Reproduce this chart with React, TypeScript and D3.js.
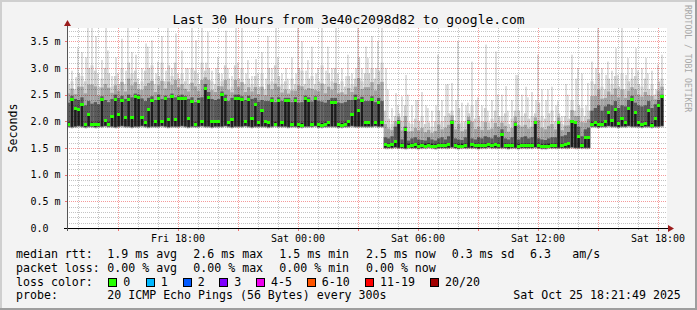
import React from 'react';
import * as d3 from 'd3';

// ---------- data (ms), one column per 10 minutes starting Fri 12:27 UTC ----------
const START = Date.UTC(2025, 9, 24, 12, 27);
const STEP_MIN = 10;

const MED = [
  1.94, 2.41, 2.25, 2.22, 2.31, 1.94, 2.12, 1.94, 1.94, 1.95,
  2.41, 2.02, 1.95, 2.10, 2.41, 2.12, 2.40, 2.08, 2.41, 2.07,
  2.46, 2.44, 2.08, 1.97, 2.22, 2.39, 1.99, 2.43, 2.00, 2.42,
  2.03, 2.46, 2.03, 2.42, 2.42, 2.42, 2.06, 2.38, 1.95, 2.38,
  2.00, 2.62, 2.45, 2.00, 1.99, 2.00, 2.51, 2.41, 1.97, 2.03,
  2.42, 2.43, 2.41, 2.00, 2.41, 2.06, 2.32, 1.97, 2.20, 2.00,
  1.97, 2.39, 1.95, 2.39, 1.98, 2.39, 2.39, 1.95, 2.39, 1.94,
  1.93, 2.42, 2.39, 1.94, 2.42, 1.94, 1.93, 1.95, 1.98, 2.36,
  2.36, 1.94, 1.93, 1.95, 2.00, 2.12, 2.42, 2.20, 2.39, 1.98,
  1.98, 2.41, 1.97, 2.36, 1.97, 1.56, 1.55, 1.56, 1.62, 1.98,
  1.55, 1.84, 1.53, 1.55, 1.56, 1.53, 1.54, 1.53, 1.55, 1.53,
  1.53, 1.55, 1.55, 1.54, 1.56, 1.97, 1.55, 1.53, 1.53, 1.55,
  1.98, 1.56, 1.54, 1.54, 1.55, 1.55, 1.56, 1.55, 1.56, 1.55,
  1.76, 1.55, 1.55, 1.55, 1.95, 1.53, 1.55, 1.55, 1.54, 1.55,
  1.97, 1.55, 1.53, 1.53, 1.53, 1.55, 1.55, 1.97, 1.55, 1.56,
  1.59, 1.99, 1.97, 1.72, 1.55, 1.70, 1.69, 1.95, 1.97, 1.95,
  1.94, 1.99, 2.16, 2.02, 2.22, 1.96, 2.06, 1.97, 2.25, 2.41,
  2.16, 1.98, 1.95, 1.96, 2.20, 1.93, 2.06, 2.30, 2.46,
];

const LO = [
  1.90, 1.89, 1.90, 1.91, 1.90, 1.89, 1.90, 1.90, 1.89, 1.90,
  1.90, 1.91, 1.90, 1.90, 1.89, 1.90, 1.91, 1.90, 1.90, 1.89,
  1.90, 1.90, 1.91, 1.90, 1.89, 1.90, 1.90, 1.90, 1.91, 1.90,
  1.89, 1.90, 1.90, 1.90, 1.91, 1.90, 1.89, 1.90, 1.90, 1.90,
  1.91, 1.90, 1.90, 1.89, 1.90, 1.90, 1.90, 1.91, 1.90, 1.89,
  1.90, 1.90, 1.90, 1.91, 1.90, 1.89, 1.90, 1.90, 1.90, 1.90,
  1.89, 1.90, 1.91, 1.90, 1.90, 1.90, 1.89, 1.90, 1.90, 1.89,
  1.89, 1.90, 1.90, 1.90, 1.91, 1.89, 1.89, 1.90, 1.90, 1.90,
  1.90, 1.89, 1.89, 1.90, 1.90, 1.91, 1.90, 1.90, 1.90, 1.90,
  1.90, 1.90, 1.91, 1.90, 1.90, 1.50, 1.50, 1.50, 1.51, 1.50,
  1.50, 1.49, 1.50, 1.50, 1.50, 1.49, 1.50, 1.50, 1.51, 1.50,
  1.49, 1.50, 1.50, 1.50, 1.50, 1.51, 1.50, 1.49, 1.50, 1.50,
  1.50, 1.50, 1.50, 1.49, 1.50, 1.50, 1.51, 1.50, 1.50, 1.50,
  1.50, 1.50, 1.49, 1.50, 1.50, 1.49, 1.50, 1.50, 1.50, 1.50,
  1.51, 1.50, 1.49, 1.49, 1.50, 1.50, 1.50, 1.50, 1.50, 1.50,
  1.50, 1.51, 1.50, 1.50, 1.50, 1.50, 1.50, 1.90, 1.90, 1.89,
  1.90, 1.90, 1.91, 1.90, 1.90, 1.89, 1.90, 1.90, 1.91, 1.90,
  1.90, 1.90, 1.89, 1.90, 1.90, 1.89, 1.90, 1.90, 1.91,
];

const HI = [
  2.35, 2.48, 2.42, 2.40, 2.45, 2.30, 2.38, 2.33, 2.36, 2.32,
  2.47, 2.40, 2.36, 2.42, 2.50, 2.44, 2.48, 2.42, 2.50, 2.45,
  2.52, 2.50, 2.43, 2.38, 2.44, 2.47, 2.40, 2.50, 2.42, 2.48,
  2.44, 2.52, 2.45, 2.48, 2.50, 2.47, 2.42, 2.45, 2.36, 2.44,
  2.45, 2.70, 2.55, 2.42, 2.40, 2.42, 2.56, 2.50, 2.38, 2.44,
  2.50, 2.50, 2.47, 2.40, 2.48, 2.42, 2.44, 2.37, 2.40, 2.38,
  2.38, 2.45, 2.36, 2.45, 2.38, 2.44, 2.44, 2.36, 2.45, 2.35,
  2.36, 2.48, 2.45, 2.37, 2.47, 2.38, 2.37, 2.35, 2.40, 2.44,
  2.44, 2.35, 2.34, 2.36, 2.40, 2.40, 2.50, 2.42, 2.46, 2.38,
  2.38, 2.47, 2.36, 2.44, 2.38, 1.70, 1.68, 1.72, 1.90, 2.02,
  1.66, 1.90, 1.64, 1.68, 1.70, 1.66, 1.65, 1.64, 1.70, 1.66,
  1.64, 1.68, 1.70, 1.66, 1.72, 2.02, 1.68, 1.66, 1.65, 1.70,
  2.02, 1.68, 1.66, 1.70, 1.68, 1.72, 1.70, 1.68, 1.74, 1.70,
  1.85, 1.68, 1.66, 1.70, 1.98, 1.66, 1.70, 1.72, 1.68, 1.70,
  2.00, 1.68, 1.66, 1.65, 1.68, 1.70, 1.70, 2.00, 1.72, 1.74,
  1.80, 2.02, 2.00, 1.90, 1.72, 1.85, 1.88, 2.20, 2.25, 2.30,
  2.20, 2.28, 2.32, 2.30, 2.38, 2.25, 2.30, 2.28, 2.40, 2.48,
  2.35, 2.30, 2.28, 2.30, 2.38, 2.25, 2.32, 2.40, 2.50,
];

const P90 = [
  2.70, 2.75, 2.60, 2.90, 2.85, 2.75, 3.00, 3.05, 2.95, 2.65,
  2.80, 3.00, 2.90, 2.65, 2.85, 2.70, 3.00, 2.70, 3.10, 2.90,
  2.95, 2.70, 2.75, 2.95, 3.00, 3.05, 2.70, 2.85, 3.10, 2.75,
  3.05, 2.85, 3.10, 2.80, 2.90, 2.75, 2.70, 3.00, 2.95, 2.70,
  3.10, 2.95, 3.00, 2.75, 2.70, 2.90, 2.75, 3.05, 2.80, 2.65,
  3.05, 2.80, 3.00, 2.70, 2.80, 2.70, 2.85, 2.65, 2.90, 2.60,
  3.00, 2.75, 3.05, 2.85, 2.70, 2.75, 2.60, 2.80, 2.70, 3.00,
  2.95, 2.70, 2.80, 2.85, 2.70, 2.75, 3.05, 2.70, 2.90, 2.75,
  3.00, 2.70, 2.75, 2.65, 2.85, 2.70, 2.80, 3.20, 2.75, 2.90,
  2.90, 3.00, 2.80, 2.95, 3.10, 2.20, 2.05, 1.95, 2.10, 2.15,
  2.00, 2.30, 1.98, 1.95, 2.05, 2.00, 2.10, 1.95, 1.98, 1.90,
  2.00, 2.20, 2.00, 2.10, 2.15, 2.20, 2.02, 2.25, 1.98, 2.00,
  2.15, 2.30, 2.05, 2.10, 2.00, 2.25, 1.98, 2.05, 2.20, 2.10,
  2.10, 2.15, 1.95, 2.05, 2.20, 2.20, 2.10, 2.15, 2.05, 2.10,
  2.15, 2.35, 2.10, 2.05, 2.15, 2.20, 2.00, 2.15, 1.95, 2.10,
  2.05, 2.40, 2.20, 2.30, 2.25, 2.10, 2.20, 2.75, 2.70, 2.90,
  2.65, 2.60, 2.80, 2.70, 2.85, 2.65, 2.90, 2.60, 2.75, 2.80,
  2.85, 2.70, 2.65, 2.80, 2.60, 2.70, 2.50, 2.75, 2.80,
];

const MX = [
  3.00, 2.95, 2.83, 3.37, 3.30, 3.20, 3.75, 3.75, 3.60, 2.90,
  3.15, 3.75, 3.33, 2.85, 3.20, 2.90, 3.55, 2.95, 3.75, 3.30,
  3.25, 2.80, 3.00, 3.46, 3.40, 3.52, 2.90, 3.12, 3.60, 2.95,
  3.75, 3.00, 3.65, 2.90, 3.33, 3.00, 3.00, 3.75, 3.52, 2.90,
  3.75, 3.10, 3.68, 2.95, 3.00, 3.20, 2.90, 3.70, 3.00, 2.85,
  3.75, 3.10, 3.75, 2.90, 3.15, 2.85, 3.17, 2.90, 3.30, 2.80,
  3.60, 3.00, 3.75, 3.20, 2.90, 3.00, 2.80, 3.20, 2.90, 3.75,
  3.50, 2.95, 3.15, 3.40, 2.90, 3.00, 3.75, 2.95, 3.40, 3.00,
  3.75, 2.90, 3.00, 2.85, 3.25, 2.90, 3.00, 3.75, 3.00, 3.40,
  3.19, 3.60, 3.00, 3.50, 3.75, 3.00, 2.60, 2.25, 2.53, 2.30,
  2.47, 2.87, 2.50, 2.30, 2.40, 2.40, 2.55, 2.30, 2.25, 2.20,
  2.30, 3.25, 2.40, 2.69, 2.70, 2.72, 2.40, 3.50, 2.35, 2.30,
  2.35, 3.12, 2.40, 2.45, 2.30, 3.44, 2.20, 2.40, 3.31, 2.50,
  2.50, 2.66, 2.20, 2.40, 2.87, 2.87, 2.50, 2.65, 2.45, 2.55,
  2.40, 3.25, 2.60, 2.40, 2.60, 2.65, 2.30, 2.38, 2.10, 2.70,
  2.50, 3.25, 2.80, 3.00, 2.90, 2.30, 2.72, 3.12, 3.00, 3.75,
  3.00, 2.87, 3.12, 2.95, 3.37, 2.87, 3.75, 2.87, 3.19, 3.00,
  3.37, 2.95, 3.00, 3.19, 2.90, 2.95, 2.60, 3.06, 3.25,
];

const Y_MAJOR = [0, 0.5, 1.0, 1.5, 2.0, 2.5, 3.0, 3.5];
const Y_LABELS = ['0.0', '0.5 m', '1.0 m', '1.5 m', '2.0 m', '2.5 m', '3.0 m', '3.5 m'];

const TITLE = 'Last 30 Hours from 3e40c2098d82 to google.com';
const RTT_LABEL = 'median rtt:';
const RTT_STATS = ['1.9 ms avg', '2.6 ms max', '1.5 ms min', '2.5 ms now', '0.3 ms sd', '6.3', 'am/s'];
const LOSS_LABEL = 'packet loss:';
const LOSS_STATS = ['0.00 % avg', '0.00 % max', '0.00 % min', '0.00 % now'];
const COLOR_LABEL = 'loss color:';
const LOSS_NAMES = ['0', '1', '2', '3', '4-5', '6-10', '11-19', '20/20'];
const LOSS_COLORS = ['#26ff00', '#00b8ff', '#0059ff', '#7e00ff', '#ee00ee', '#ff5500', '#ff0000', '#a10000'];
const PROBE_LABEL = 'probe:';
const PROBE_TEXT = '20 ICMP Echo Pings (56 Bytes) every 300s';
const STAMP = 'Sat Oct 25 18:21:49 2025';
const WATERMARK = 'RRDTOOL / TOBI OETIKER';

// ---------- layout ----------
const W = 697, H = 310;
const PL = 67, PR = 667, PT = 28, PB = 228;
const FONT = "'DejaVu Sans Mono', monospace";

export default function App() {
  const t0 = new Date(START);
  const t1 = new Date(START + 30 * 3600 * 1000);
  const x = d3.scaleUtc().domain([t0, t1]).range([PL, PR]);
  const y = d3.scaleLinear().domain([0, 3.75]).range([PB, PT]);

  const cols = MED.map((m, i) => {
    const a = new Date(START + i * STEP_MIN * 60000);
    const b = new Date(START + (i + 1) * STEP_MIN * 60000);
    return { i, x0: x(a), x1: x(b), med: m, lo: LO[i], hi: HI[i], p90: P90[i], mx: MX[i] };
  });

  const hours = d3.utcHour.range(t0, t1);
  const minorY = d3.range(1, 38).filter((k) => k % 5 !== 0).map((k) => k / 10);
  const fmt = d3.utcFormat('%a %H:%M');

  // draws one smoke layer of a column; `frac` narrows the bar inside its slot
  const band = (c: any, lo: number, hi: number, fill: string, key: string, frac = 1, off = 0) => {
    const yt = y(Math.min(hi, 3.75));
    const yb = y(lo);
    const w = (c.x1 - c.x0) * frac;
    const xx = c.x0 + (c.x1 - c.x0 - w) * off;
    return <rect key={key} x={xx} y={yt} width={w} height={Math.max(0, yb - yt)} fill={fill} />;
  };

  const row1 = [107.3, 193.3, 279.3, 366, 451.7, 530, 572.3];
  const row2 = [107.3, 193.3, 279.3, 366];
  const boxX = [108.3, 145.7, 182.7, 219.3, 256, 306.7, 365, 430];
  const rows = [258, 271.8, 285.6, 299.4];
  const gridStyle = { mixBlendMode: 'multiply' as const };

  return (
    <svg width={W} height={H} style={{ position: 'absolute', left: 0, top: 0 }} xmlns="http://www.w3.org/2000/svg">
      <rect x={0} y={0} width={W} height={H} fill="#f3f3f3" />
      <rect x={0} y={0} width={W} height={2} fill="#cfcfcf" />
      <rect x={0} y={0} width={2} height={H} fill="#cfcfcf" />
      <rect x={0} y={H - 2} width={W} height={2} fill="#9e9e9e" />
      <rect x={W - 2} y={0} width={2} height={H} fill="#9e9e9e" />

      <text x={W / 2} y={23.5} textAnchor="middle" fontFamily={FONT} fontSize={13} fill="#000">{TITLE}</text>

      <g style={{ isolation: 'isolate' }}>
        <rect x={PL} y={PT} width={PR - PL} height={PB - PT} fill="#ffffff" />

        <g>
          {cols.map((c) => band(c, c.lo - 0.03, Math.max(c.mx, c.p90), '#dddddd', 'a' + c.i, 0.55, (c.i % 3) / 2))}
          {cols.map((c) => band(c, c.lo - 0.02, c.p90, '#cdcdcd', 'b' + c.i, 0.85, 0.5))}
          {cols.map((c) => band(c, c.lo - 0.01, (c.p90 + c.hi) / 2, '#a4a4a4', 'e' + c.i))}
          {cols.map((c) => band(c, c.lo, Math.max(c.hi, c.med), '#5a5a5a', 'c' + c.i))}
          {cols.map((c) => band(c, c.lo + 0.01, Math.max(c.med, c.lo + 0.08), '#1e1e1e', 'd' + c.i, 0.7, 0.5))}
        </g>

        <g shapeRendering="crispEdges">
          {minorY.map((v) => (
            <line key={'my' + v} x1={PL} x2={PR} y1={Math.round(y(v)) + 0.5} y2={Math.round(y(v)) + 0.5}
              stroke="#c4c4c4" strokeDasharray="1,1" style={gridStyle} />
          ))}
          {hours.filter((h) => h.getUTCHours() % 3 !== 0).map((h) => (
            <line key={'mx' + +h} x1={Math.round(x(h)) + 0.5} x2={Math.round(x(h)) + 0.5} y1={PT} y2={PB}
              stroke="#c4c4c4" strokeDasharray="1,1" style={gridStyle} />
          ))}
          {Y_MAJOR.filter((v) => v > 0).map((v) => (
            <line key={'My' + v} x1={PL} x2={PR} y1={Math.round(y(v)) + 0.5} y2={Math.round(y(v)) + 0.5}
              stroke="#f49a9a" strokeDasharray="1,1" style={gridStyle} />
          ))}
          {hours.filter((h) => h.getUTCHours() % 3 === 0).map((h) => (
            <line key={'Mx' + +h} x1={Math.round(x(h)) + 0.5} x2={Math.round(x(h)) + 0.5} y1={PT} y2={PB}
              stroke="#f49a9a" strokeDasharray="1,1" style={gridStyle} />
          ))}
        </g>
      </g>

      <g shapeRendering="crispEdges">
        {hours.filter((h) => h.getUTCHours() % 3 === 0).map((h) => (
          <line key={'Tx' + +h} x1={Math.round(x(h)) + 0.5} x2={Math.round(x(h)) + 0.5} y1={PB} y2={PB + 3}
            stroke="#f07070" />
        ))}
        {hours.filter((h) => h.getUTCHours() % 3 !== 0).map((h) => (
          <line key={'tx' + +h} x1={Math.round(x(h)) + 0.5} x2={Math.round(x(h)) + 0.5} y1={PB} y2={PB + 2}
            stroke="#b0b0b0" />
        ))}
        {Y_MAJOR.filter((v) => v > 0).map((v) => (
          <line key={'Ty' + v} x1={PL - 2} x2={PL} y1={Math.round(y(v)) + 0.5} y2={Math.round(y(v)) + 0.5}
            stroke="#f07070" />
        ))}
      </g>

      <g shapeRendering="crispEdges">
        {cols.map((c) => (
          <rect key={'m' + c.i} x={c.x0} y={y(c.med) - 1.5} width={c.x1 - c.x0} height={3} fill={LOSS_COLORS[0]} />
        ))}
      </g>

      {/* axes */}
      <g shapeRendering="crispEdges">
        <line x1={PL - 3} x2={PR + 2} y1={PB + 0.5} y2={PB + 0.5} stroke="#000" />
        <line x1={PL + 0.5} x2={PL + 0.5} y1={PB + 3} y2={PT - 3} stroke="#555" />
      </g>
      <path d={`M${PR + 1},${PB - 3} L${PR + 7},${PB + 0.5} L${PR + 1},${PB + 4} Z`} fill="#9b1c1c" />
      <path d={`M${PL - 3},${PT - 2} L${PL + 0.5},${PT - 8} L${PL + 4},${PT - 2} Z`} fill="#9b1c1c" />

      {Y_MAJOR.map((v, k) => (
        <text key={'yl' + v} x={30.5} y={y(v) + 3.5} fontFamily={FONT} fontSize={10} fill="#000" style={{ whiteSpace: 'pre' }}>
          {Y_LABELS[k]}
        </text>
      ))}
      {hours.filter((h) => h.getUTCHours() % 6 === 0).map((h) => (
        <text key={'xl' + +h} x={x(h)} y={241.5} textAnchor="middle" fontFamily={FONT} fontSize={10} fill="#000">
          {fmt(h)}
        </text>
      ))}

      <text transform={`translate(16.5,${(PT + PB) / 2}) rotate(-90)`} textAnchor="middle" fontFamily={FONT} fontSize={11.6} fill="#000">
        Seconds
      </text>
      <text transform={`translate(684.5,5) rotate(90)`} fontFamily={FONT} fontSize={8.1} fill="#a8a8a8">
        {WATERMARK}
      </text>

      {/* legend */}
      <g fontFamily={FONT} fontSize={11.6} fill="#000">
        <text x={16} y={rows[0]}>{RTT_LABEL}</text>
        {RTT_STATS.map((s, k) => <text key={'r' + k} x={row1[k]} y={rows[0]}>{s}</text>)}
        <text x={16} y={rows[1]}>{LOSS_LABEL}</text>
        {LOSS_STATS.map((s, k) => <text key={'l' + k} x={row2[k]} y={rows[1]}>{s}</text>)}
        <text x={16} y={rows[2]}>{COLOR_LABEL}</text>
        {LOSS_NAMES.map((s, k) => (
          <g key={'c' + k}>
            <rect x={Math.round(boxX[k]) + 0.5} y={278.5} width={8} height={8} fill={LOSS_COLORS[k]} stroke="#000" shapeRendering="crispEdges" />
            <text x={boxX[k] + 15} y={rows[2]}>{s}</text>
          </g>
        ))}
        <text x={16} y={rows[3]}>{PROBE_LABEL}</text>
        <text x={107.3} y={rows[3]}>{PROBE_TEXT}</text>
        <text x={513.3} y={rows[3]}>{STAMP}</text>
      </g>
    </svg>
  );
}
